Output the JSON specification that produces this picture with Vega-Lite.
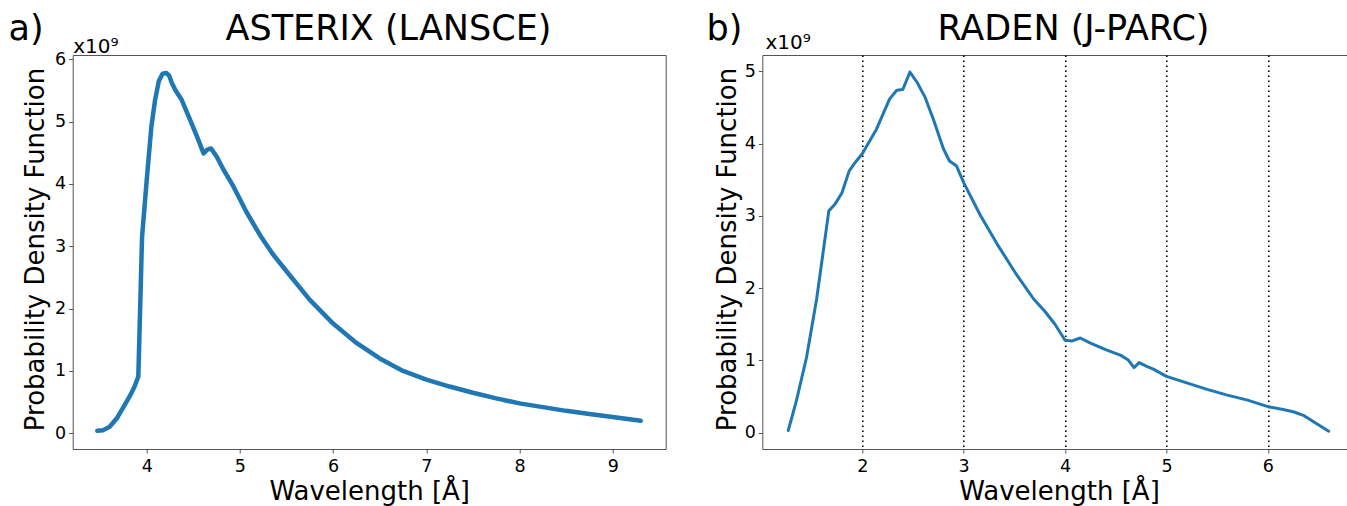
{
  "$schema": "https://vega.github.io/schema/vega-lite/v6.json",
  "autosize": {"type": "none"},
  "padding": {"left": 72.7, "top": 55, "right": 1274.3, "bottom": 451},
  "background": "white",
  "bounds": "flush",
  "spacing": 96.6,
  "config": {
    "font": "DejaVu Sans",
    "view": {"stroke": "#555555", "strokeWidth": 1},
    "axis": {
      "domain": false,
      "grid": false,
      "tickColor": "#555555",
      "tickSize": 4,
      "tickWidth": 1,
      "labelFont": "DejaVu Sans",
      "labelFontSize": 17.5,
      "labelColor": "black",
      "titleFont": "DejaVu Sans",
      "titleFontWeight": "normal",
      "titleColor": "black"
    }
  },
  "datasets": {
    "asterix": [
      {"wavelength": 3.47, "pdf": 0.04},
      {"wavelength": 3.53, "pdf": 0.05},
      {"wavelength": 3.6, "pdf": 0.1},
      {"wavelength": 3.68, "pdf": 0.24},
      {"wavelength": 3.75, "pdf": 0.42},
      {"wavelength": 3.82, "pdf": 0.6},
      {"wavelength": 3.87, "pdf": 0.75},
      {"wavelength": 3.91, "pdf": 0.91},
      {"wavelength": 3.95, "pdf": 3.15},
      {"wavelength": 4.0, "pdf": 4.06},
      {"wavelength": 4.05, "pdf": 4.92},
      {"wavelength": 4.09, "pdf": 5.35},
      {"wavelength": 4.13, "pdf": 5.65},
      {"wavelength": 4.17, "pdf": 5.77},
      {"wavelength": 4.21, "pdf": 5.78},
      {"wavelength": 4.24, "pdf": 5.74},
      {"wavelength": 4.27, "pdf": 5.62},
      {"wavelength": 4.31, "pdf": 5.5},
      {"wavelength": 4.375, "pdf": 5.35},
      {"wavelength": 4.46, "pdf": 5.05},
      {"wavelength": 4.54, "pdf": 4.76},
      {"wavelength": 4.61, "pdf": 4.49},
      {"wavelength": 4.65, "pdf": 4.55},
      {"wavelength": 4.69, "pdf": 4.57},
      {"wavelength": 4.75, "pdf": 4.44},
      {"wavelength": 4.82, "pdf": 4.24},
      {"wavelength": 4.93, "pdf": 3.96},
      {"wavelength": 5.07, "pdf": 3.55},
      {"wavelength": 5.22, "pdf": 3.17},
      {"wavelength": 5.35, "pdf": 2.88},
      {"wavelength": 5.5, "pdf": 2.6},
      {"wavelength": 5.75, "pdf": 2.14},
      {"wavelength": 6.0, "pdf": 1.76},
      {"wavelength": 6.25, "pdf": 1.45},
      {"wavelength": 6.5, "pdf": 1.2},
      {"wavelength": 6.75, "pdf": 1.0},
      {"wavelength": 7.0, "pdf": 0.86},
      {"wavelength": 7.25, "pdf": 0.75},
      {"wavelength": 7.5, "pdf": 0.65},
      {"wavelength": 7.75, "pdf": 0.56},
      {"wavelength": 8.0, "pdf": 0.48},
      {"wavelength": 8.25, "pdf": 0.42},
      {"wavelength": 8.5, "pdf": 0.36},
      {"wavelength": 8.75, "pdf": 0.31},
      {"wavelength": 9.0, "pdf": 0.26},
      {"wavelength": 9.3, "pdf": 0.2}
    ],
    "raden": [
      {"wavelength": 1.27, "pdf": 0.03},
      {"wavelength": 1.35, "pdf": 0.44},
      {"wavelength": 1.45, "pdf": 1.04},
      {"wavelength": 1.55, "pdf": 1.85},
      {"wavelength": 1.62, "pdf": 2.56},
      {"wavelength": 1.67, "pdf": 3.07},
      {"wavelength": 1.73, "pdf": 3.16},
      {"wavelength": 1.8, "pdf": 3.32},
      {"wavelength": 1.87, "pdf": 3.62},
      {"wavelength": 1.93, "pdf": 3.74},
      {"wavelength": 2.0, "pdf": 3.86},
      {"wavelength": 2.07, "pdf": 4.03},
      {"wavelength": 2.14, "pdf": 4.2},
      {"wavelength": 2.27, "pdf": 4.62},
      {"wavelength": 2.34, "pdf": 4.74},
      {"wavelength": 2.4, "pdf": 4.75},
      {"wavelength": 2.47, "pdf": 4.99},
      {"wavelength": 2.54, "pdf": 4.85},
      {"wavelength": 2.62, "pdf": 4.64},
      {"wavelength": 2.7, "pdf": 4.34},
      {"wavelength": 2.8, "pdf": 3.93},
      {"wavelength": 2.86, "pdf": 3.76},
      {"wavelength": 2.93, "pdf": 3.69},
      {"wavelength": 3.0, "pdf": 3.46},
      {"wavelength": 3.16, "pdf": 3.02},
      {"wavelength": 3.33, "pdf": 2.61},
      {"wavelength": 3.52, "pdf": 2.19},
      {"wavelength": 3.69, "pdf": 1.85},
      {"wavelength": 3.8, "pdf": 1.68},
      {"wavelength": 3.9, "pdf": 1.5},
      {"wavelength": 4.0, "pdf": 1.28},
      {"wavelength": 4.07, "pdf": 1.27},
      {"wavelength": 4.15, "pdf": 1.31},
      {"wavelength": 4.25, "pdf": 1.24},
      {"wavelength": 4.4, "pdf": 1.15},
      {"wavelength": 4.55, "pdf": 1.07},
      {"wavelength": 4.62, "pdf": 1.01},
      {"wavelength": 4.68, "pdf": 0.9},
      {"wavelength": 4.73, "pdf": 0.97},
      {"wavelength": 4.8, "pdf": 0.92},
      {"wavelength": 4.87, "pdf": 0.88},
      {"wavelength": 5.0, "pdf": 0.78},
      {"wavelength": 5.2, "pdf": 0.69},
      {"wavelength": 5.4, "pdf": 0.6},
      {"wavelength": 5.6, "pdf": 0.52},
      {"wavelength": 5.8, "pdf": 0.45},
      {"wavelength": 6.0, "pdf": 0.36},
      {"wavelength": 6.15, "pdf": 0.32},
      {"wavelength": 6.25, "pdf": 0.29},
      {"wavelength": 6.35, "pdf": 0.24},
      {"wavelength": 6.45, "pdf": 0.15},
      {"wavelength": 6.6, "pdf": 0.02}
    ]
  },
  "hconcat": [
    {
      "width": 593,
      "height": 394,
      "data": {"name": "asterix"},
      "resolve": {"axis": {"x": "independent", "y": "independent"}},
      "layer": [
        {
          "mark": {"type": "line", "color": "#1f77b4", "strokeWidth": 4.5, "strokeJoin": "round", "strokeCap": "round"},
          "encoding": {
            "x": {
              "field": "wavelength", "type": "quantitative",
              "scale": {"domain": [3.206, 9.568], "nice": false, "zero": false},
              "axis": {"orient": "bottom", "values": [4, 5, 6, 7, 8, 9], "format": "d", "labelPadding": 4,
                "title": "Wavelength [Å]", "titleFontSize": 26, "titleX": 296.5, "titleY": 50,
                "titleAlign": "center", "titleBaseline": "alphabetic"}
            },
            "y": {
              "field": "pdf", "type": "quantitative",
              "scale": {"domain": [-0.252, 6.069], "nice": false, "zero": false},
              "axis": {"orient": "left", "values": [0, 1, 2, 3, 4, 5, 6], "format": "d", "labelPadding": 3,
                "title": "Probability Density Function", "titleFontSize": 26, "titleX": -36.7, "titleY": 194,
                "titleAngle": 270, "titleAlign": "center", "titleBaseline": "middle"}
            }
          }
        },
        {
          "mark": {"type": "line", "opacity": 0},
          "encoding": {
            "x": {
              "field": "wavelength", "type": "quantitative",
              "axis": {"orient": "top", "labels": false, "ticks": false, "domain": false,
                "title": "ASTERIX (LANSCE)", "titleFontSize": 35, "titleX": 315.3, "titleY": -16,
                "titleAlign": "center", "titleBaseline": "alphabetic"}
            },
            "y": {
              "field": "pdf", "type": "quantitative",
              "axis": {"orient": "right", "labels": false, "ticks": false, "domain": false,
                "title": "a)", "titleFontSize": 35, "titleAngle": 0, "titleX": -657.7, "titleY": -16,
                "titleAlign": "left", "titleBaseline": "alphabetic"}
            }
          }
        },
        {
          "mark": {"type": "line", "opacity": 0},
          "encoding": {
            "x": {
              "field": "wavelength", "type": "quantitative",
              "axis": {"orient": "top", "labels": false, "ticks": false, "domain": false,
                "title": "x10⁹", "titleFontSize": 20, "titleX": 0, "titleY": -3,
                "titleAlign": "left", "titleBaseline": "alphabetic"}
            },
            "y": {"field": "pdf", "type": "quantitative", "axis": null}
          }
        }
      ]
    },
    {
      "width": 594,
      "height": 394,
      "data": {"name": "raden"},
      "resolve": {"axis": {"x": "independent", "y": "independent"}},
      "layer": [
        {
          "mark": {"type": "line", "color": "#1f77b4", "strokeWidth": 3, "strokeJoin": "round", "strokeCap": "round"},
          "encoding": {
            "x": {
              "field": "wavelength", "type": "quantitative",
              "scale": {"domain": [1.014, 6.872], "nice": false, "zero": false},
              "axis": {"orient": "bottom", "values": [2, 3, 4, 5, 6], "format": "d", "labelPadding": 4,
                "grid": true, "gridColor": "black", "gridDash": [1.5, 3.5], "gridWidth": 1.6, "gridOpacity": 1,
                "title": "Wavelength [Å]", "titleFontSize": 26, "titleX": 296.7, "titleY": 50,
                "titleAlign": "center", "titleBaseline": "alphabetic"}
            },
            "y": {
              "field": "pdf", "type": "quantitative",
              "scale": {"domain": [-0.226, 5.227], "nice": false, "zero": false},
              "axis": {"orient": "left", "values": [0, 1, 2, 3, 4, 5], "format": "d", "labelPadding": 3,
                "title": "Probability Density Function", "titleFontSize": 26, "titleX": -35.3, "titleY": 194,
                "titleAngle": 270, "titleAlign": "center", "titleBaseline": "middle"}
            }
          }
        },
        {
          "mark": {"type": "line", "opacity": 0},
          "encoding": {
            "x": {
              "field": "wavelength", "type": "quantitative",
              "axis": {"orient": "top", "labels": false, "ticks": false, "domain": false,
                "title": "RADEN (J-PARC)", "titleFontSize": 35, "titleX": 310.7, "titleY": -16,
                "titleAlign": "center", "titleBaseline": "alphabetic"}
            },
            "y": {
              "field": "pdf", "type": "quantitative",
              "axis": {"orient": "right", "labels": false, "ticks": false, "domain": false,
                "title": "b)", "titleFontSize": 35, "titleAngle": 0, "titleX": -650.3, "titleY": -16,
                "titleAlign": "left", "titleBaseline": "alphabetic"}
            }
          }
        },
        {
          "mark": {"type": "line", "opacity": 0},
          "encoding": {
            "x": {
              "field": "wavelength", "type": "quantitative",
              "axis": {"orient": "top", "labels": false, "ticks": false, "domain": false,
                "title": "x10⁹", "titleFontSize": 20, "titleX": 2.7, "titleY": -7,
                "titleAlign": "left", "titleBaseline": "alphabetic"}
            },
            "y": {"field": "pdf", "type": "quantitative", "axis": null}
          }
        }
      ]
    }
  ]
}
